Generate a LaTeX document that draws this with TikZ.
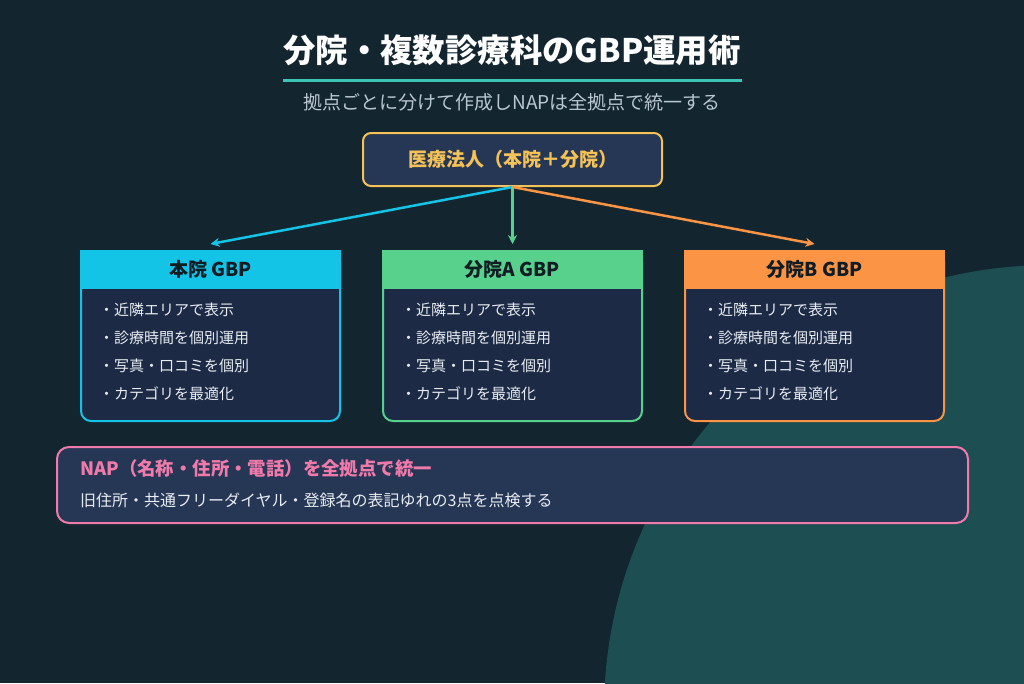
\documentclass[tikz,border=0pt]{standalone}
\usepackage{fontspec}
\setmainfont{Noto Sans CJK JP}
\usepackage{tikz}
\usetikzlibrary{positioning,arrows.meta,calc}

\definecolor{bgdark}{HTML}{13252F}
\definecolor{bgcirc}{HTML}{1C4E52}
\definecolor{cardfill}{HTML}{1D2A46}
\definecolor{boxfill}{HTML}{263655}
\definecolor{hqcyan}{HTML}{14C4E6}
\definecolor{brgreen}{HTML}{58D18D}
\definecolor{brorange}{HTML}{FC9445}
\definecolor{orgyellow}{HTML}{F4C257}
\definecolor{nappink}{HTML}{F07BAB}
\definecolor{lineteal}{HTML}{3EC4B5}
\definecolor{subgray}{HTML}{B9C7D3}
\definecolor{itemtext}{HTML}{E8EDF2}
\definecolor{hdrtext}{HTML}{101C24}

\begin{document}
\begin{tikzpicture}[x=1pt, y=-1pt,
  hdr/.style={draw=#1, fill=#1, line width=2pt, minimum width=259pt,
              minimum height=37pt, anchor=north, inner sep=0pt,
              text=hdrtext, font=\fontsize{19}{21}\selectfont\bfseries},
  card/.style={draw=#1, fill=cardfill, line width=2pt, rounded corners=10pt,
               minimum width=259pt, minimum height=170pt, anchor=north},
  items/.style={anchor=north west, align=left, inner sep=0pt,
                text=itemtext, font=\fontsize{15}{28}\selectfont},
  arr/.style={-{Stealth[length=9pt,width=9pt]}, line width=2.5pt, color=#1},
]
% background and the big circle on the right
\useasboundingbox (0,0) rectangle (1024,683);
\fill[bgdark] (0,0) rectangle (1024,683);
\begin{scope}
  \clip (0,0) rectangle (1024,683);
  \fill[bgcirc] (1050,711) circle (446);
\end{scope}

% title
\node[text=white, font=\fontsize{32.4}{36}\selectfont\bfseries] (ttl) at (512,50)
  {分院・複数診療科のGBP運用術};
\draw[lineteal, line width=3pt] (283,80) -- (742,80);
\node[text=subgray, font=\fontsize{19}{22}\selectfont] (sub) at (512,102)
  {拠点ごとに分けて作成しNAPは全拠点で統一する};

% corporation
\node[draw=orgyellow, fill=boxfill, line width=2pt, rounded corners=8pt,
      minimum width=299pt, minimum height=53pt, text=orgyellow,
      font=\fontsize{19}{21}\selectfont\bfseries] (org) at (512.5,159.5)
  {医療法人（本院＋分院）};

% cards
\node[card=hqcyan] (hqb) at (210.5,250) {};
\node[hdr=hqcyan] (hq) at (210.5,250) {本院 GBP};
\node[items] (hql) at (99,303)
  {・近隣エリアで表示\\・診療時間を個別運用\\・写真・口コミを個別\\・カテゴリを最適化};

\node[card=brgreen] (brab) at (512.5,250) {};
\node[hdr=brgreen] (bra) at (512.5,250) {分院A GBP};
\node[items] (bral) at (401,303)
  {・近隣エリアで表示\\・診療時間を個別運用\\・写真・口コミを個別\\・カテゴリを最適化};

\node[card=brorange] (brbb) at (814.5,250) {};
\node[hdr=brorange] (brb) at (814.5,250) {分院B GBP};
\node[items] (brbl) at (703,303)
  {・近隣エリアで表示\\・診療時間を個別運用\\・写真・口コミを個別\\・カテゴリを最適化};

% arrow ends just above each card
\coordinate (hqtop) at ([yshift=6pt]hq.north);
\coordinate (bratop) at ([yshift=6pt]bra.north);
\coordinate (brbtop) at ([yshift=6pt]brb.north);
\draw[arr=hqcyan] (org.south) -- (hqtop);
\draw[arr=brgreen] (org.south) -- (bratop);
\draw[arr=brorange] (org.south) -- (brbtop);

% NAP box
\node[draw=nappink, fill=boxfill, line width=2pt, rounded corners=12pt,
      minimum width=911pt, minimum height=76pt] (nap) at (512.5,485) {};
\node[anchor=west, inner sep=0pt, text=nappink,
      font=\fontsize{18.4}{20}\selectfont\bfseries] (naph) at (80,468)
  {NAP（名称・住所・電話）を全拠点で統一};
\node[anchor=west, inner sep=0pt, text=itemtext,
      font=\fontsize{16}{18}\selectfont] (napb) at (80,500)
  {旧住所・共通フリーダイヤル・登録名の表記ゆれの3点を点検する};
\end{tikzpicture}
\end{document}
